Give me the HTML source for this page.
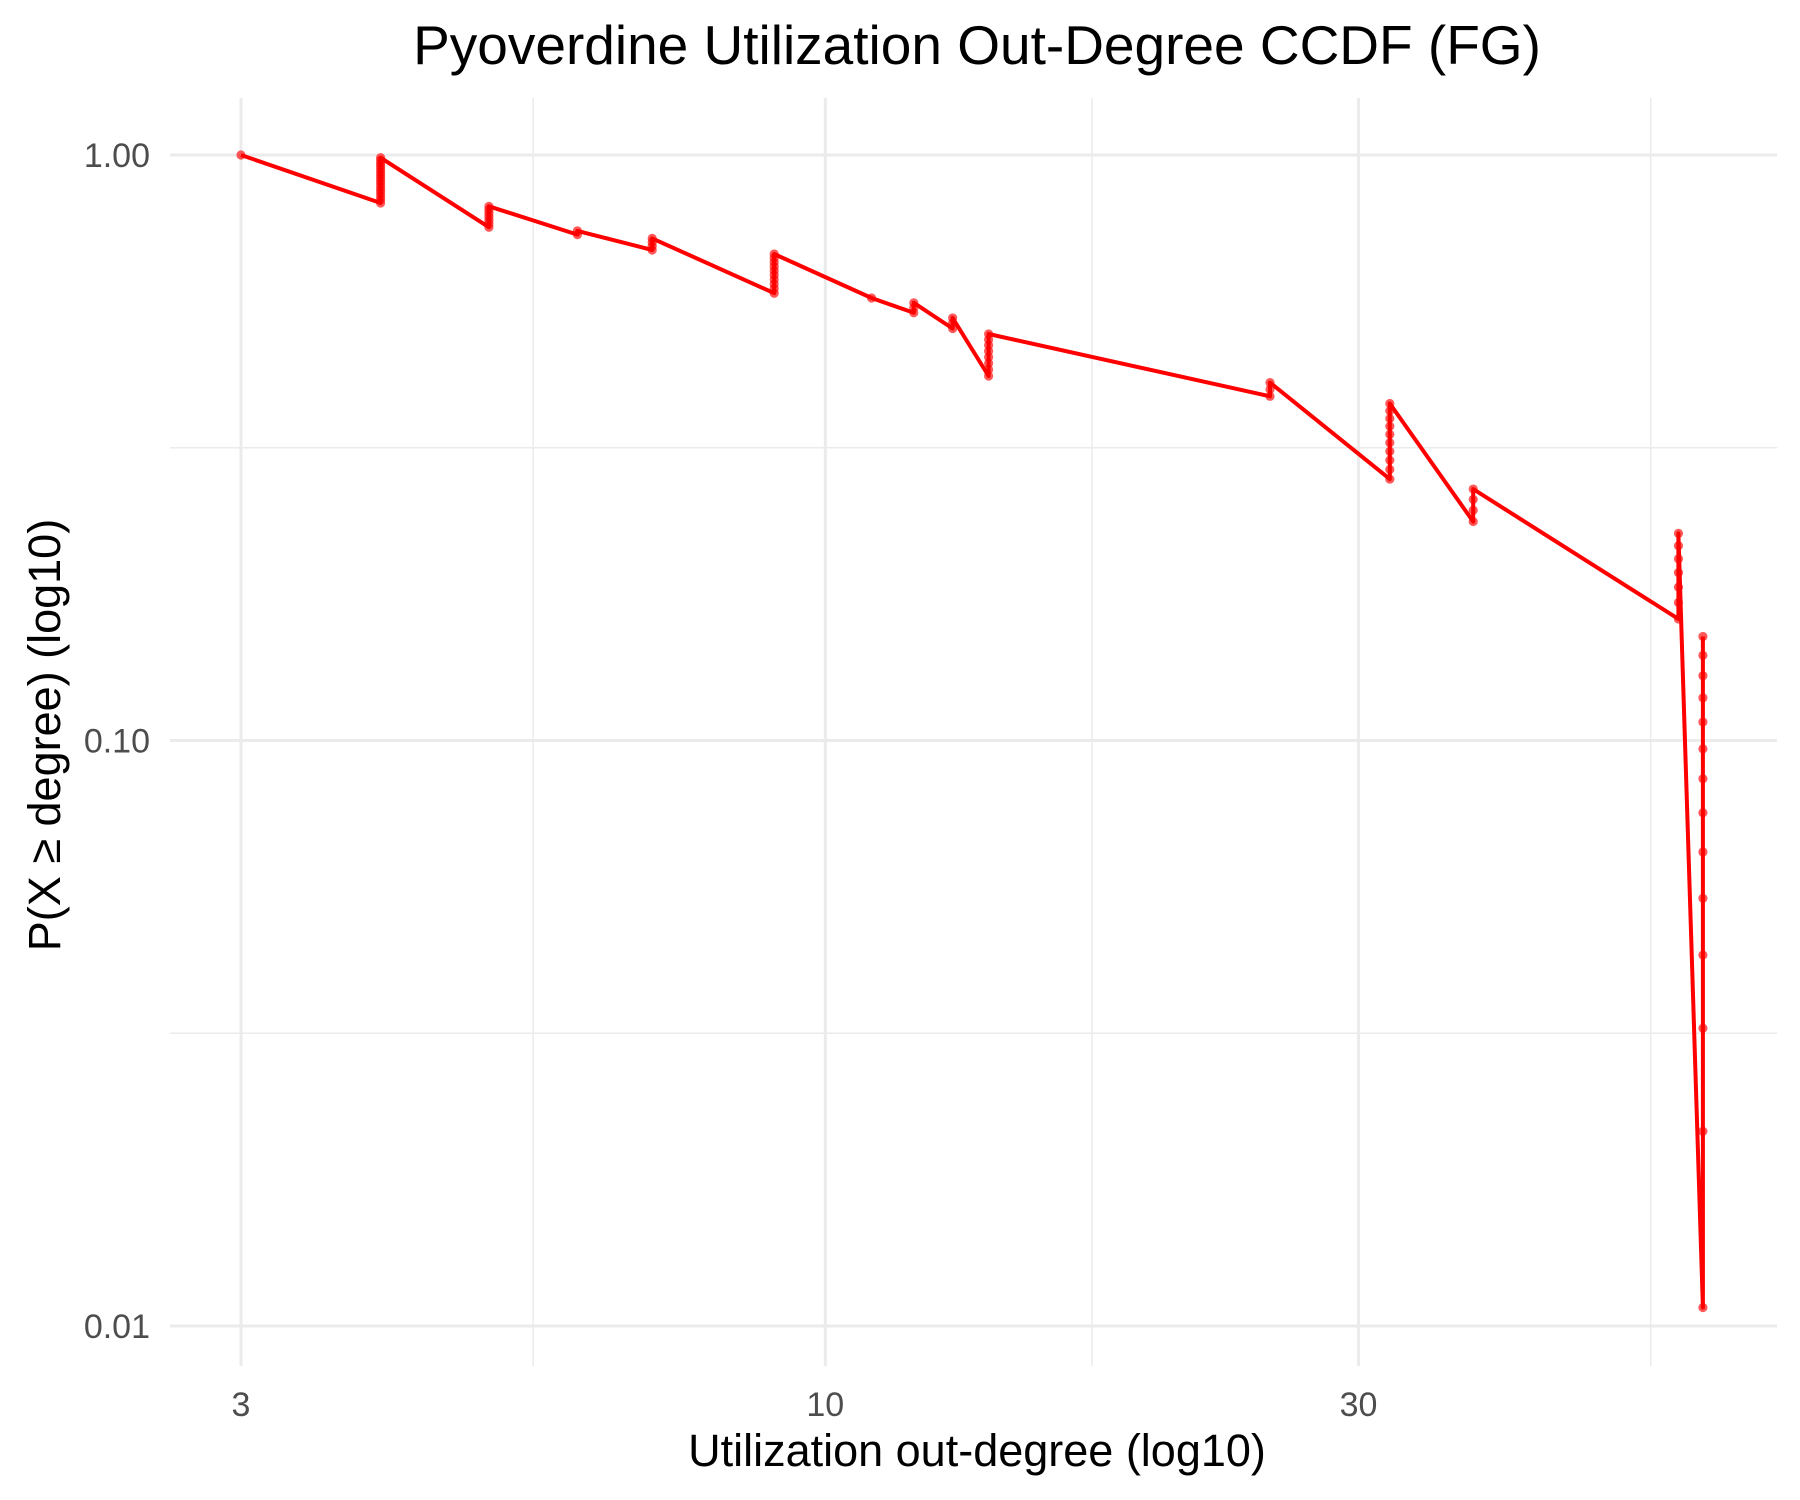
<!DOCTYPE html>
<html><head><meta charset="utf-8"><style>
body{margin:0;background:#fff}
svg{display:block;font-family:"Liberation Sans",sans-serif}
</style></head><body>
<svg id="chart" width="1800" height="1500">
<text x="977" y="64" text-anchor="middle" font-size="55" fill="#000">Pyoverdine Utilization Out-Degree CCDF (FG)</text>
<text x="977" y="1466" text-anchor="middle" font-size="45" fill="#000">Utilization out-degree (log10)</text>
<text transform="translate(60,735) rotate(-90)" text-anchor="middle" font-size="45" fill="#000">P(X ≥ degree) (log10)</text>
<g id="grid"></g><g id="ticks"></g><g id="marks"></g>
</svg>
<script>
const degrees = [3,4,5,6,7,9,11,12,13,14,25,32,38,58,61];
const counts  = [1,16,7,2,4,10,1,3,3,8,3,10,4,7,14];
const xTicks = [3,10,30];
const xTickLabels = ["3","10","30"];
const xMinor = [5.477,17.32,54.77];
const yTicks = [1,0.1,0.01];
const yTickLabels = ["1.00","0.10","0.01"];
const yMinor = [0.3162,0.03162];

const ns='http://www.w3.org/2000/svg';
const L=170,R=1777,T=98,B=1366;
const xs=d=>241+1117.5*Math.log10(d/3);
const ys=p=>155-585.5*Math.log10(p);
function el(t,a,parent){const e=document.createElementNS(ns,t);for(const k in a)e.setAttribute(k,a[k]);document.getElementById(parent).appendChild(e);return e;}

xMinor.forEach(v=>{const e=el('line',{x1:xs(v),x2:xs(v),y1:T,y2:B,stroke:'#ebebeb','stroke-width':1.5},'grid');

});
yMinor.forEach(v=>{const e=el('line',{x1:L,x2:R,y1:ys(v),y2:ys(v),stroke:'#ebebeb','stroke-width':1.5},'grid');

});
xTicks.forEach((v,i)=>{const e=el('line',{x1:xs(v),x2:xs(v),y1:T,y2:B,stroke:'#ebebeb','stroke-width':3},'grid');


const t=el('text',{x:xs(v),y:1416,'text-anchor':'middle','font-size':34,fill:'#4d4d4d'},'ticks');t.textContent=xTickLabels[i];

});
yTicks.forEach((v,i)=>{const e=el('line',{x1:L,x2:R,y1:ys(v),y2:ys(v),stroke:'#ebebeb','stroke-width':3},'grid');


const t=el('text',{x:150,y:ys(v)+12,'text-anchor':'end','font-size':34,fill:'#4d4d4d'},'ticks');t.textContent=yTickLabels[i];

});

const n=counts.reduce((a,b)=>a+b,0);
let remaining=n, pts=[], path=[];
degrees.forEach((d,g)=>{
  const top=remaining/n, bot=(remaining-counts[g]+1)/n;
  for(let k=0;k<counts[g];k++) pts.push([d,(remaining-k)/n]);
  path.push([d,bot]); if(counts[g]>1) path.push([d,top]);
  remaining-=counts[g];
});
const line=el('path',{d:path.map((p,i)=>(i?'L':'M')+xs(p[0]).toFixed(1)+','+ys(p[1]).toFixed(1)).join(''),fill:'none',stroke:'#ff0000','stroke-width':4,'stroke-linejoin':'round'},'marks');


pts.forEach(p=>{const c=el('circle',{cx:xs(p[0]),cy:ys(p[1]),r:4.6,fill:'#ff0000','fill-opacity':0.65},'marks');

});
</script>
</body></html>
